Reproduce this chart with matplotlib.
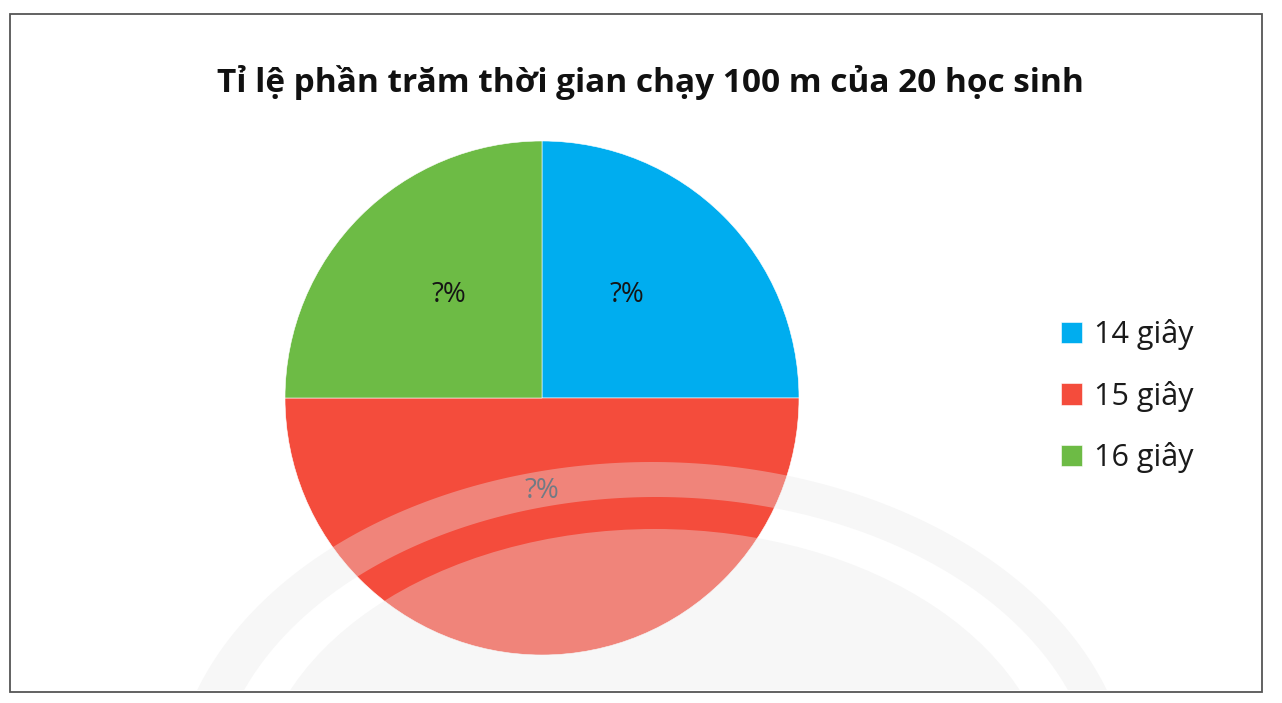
import matplotlib
matplotlib.use("Agg")
import matplotlib.pyplot as plt
from matplotlib.patches import Rectangle, Ellipse, PathPatch
from matplotlib.path import Path
import numpy as np

title = "Tỉ lệ phần trăm thời gian chạy 100 m của 20 học sinh"
categories = ["14 giây", "15 giây", "16 giây"]
values = [25, 50, 25]
labels_pct = ["?%", "?%", "?%"]
colors = ["#00ADEF", "#F44C3C", "#6DBB45"]

plt.rcParams['font.family'] = ['Open Sans', 'DejaVu Sans']

W, H = 1282, 703
fig = plt.figure(figsize=(W / 100, H / 100), dpi=100)
fig.patch.set_facecolor("white")

# pie axes
cx, cy, r = 542, 398, 257
ax = fig.add_axes([(cx - r) / W, (H - cy - r) / H, 2 * r / W, 2 * r / H])
wedges, texts, autotexts = ax.pie(values, colors=colors, startangle=90, counterclock=False,
                                  autopct=lambda p: "?%", pctdistance=0.52,
                                  wedgeprops=dict(edgecolor="white", linewidth=0.4),
                                  textprops=dict(fontsize=20, color="#151515"))
for t, s in zip(autotexts, labels_pct):
    t.set_text(s)
autotexts[0].set_position((0.33, 0.40))
autotexts[2].set_position((-0.36, 0.40))
autotexts[1].set_position((0, -0.36))
autotexts[1].set_color("#2f3d4c")
ax.set_xlim(-1, 1)
ax.set_ylim(-1, 1)
ax.set_aspect("auto")
ax.axis("off")

# overlay axes in pixel coordinates (watermark + border)
ov = fig.add_axes([0, 0, 1, 1], facecolor="none")
ov.set_xlim(0, W)
ov.set_ylim(H, 0)
ov.axis("off")

clip = Rectangle((0, 0), W, 690, transform=ov.transData)
wm_color = "#e9e9e9"
wm_alpha = 0.36

t = np.linspace(0, 2 * np.pi, 400)
def ell(xc, yc, a, b):
    return np.column_stack([xc + a * np.cos(t), yc + b * np.sin(t)])
outer = ell(652, 800, 481, 338)
inner = ell(656, 800, 442, 303)[::-1]
verts = np.vstack([outer, outer[:1], inner, inner[:1]])
codes = ([Path.MOVETO] + [Path.LINETO] * (len(outer) - 1) + [Path.CLOSEPOLY]) * 2
band = PathPatch(Path(verts, codes), facecolor=wm_color, edgecolor="none", alpha=wm_alpha)
ov.add_patch(band)
band.set_clip_path(clip)
dome = Ellipse((655, 800), 2 * 399, 2 * 271, facecolor=wm_color, edgecolor="none", alpha=wm_alpha)
ov.add_patch(dome)
dome.set_clip_path(clip)

# border
ov.add_patch(Rectangle((9.5, 13.5), 1252, 678, fill=False, edgecolor="#555555", linewidth=1.3))

fig.text(650 / W, 1 - 82 / H, title, ha="center", va="center", fontsize=24, fontweight="bold",
         color="#111111")

leg = fig.legend(wedges, categories, loc="center left",
                 bbox_to_anchor=(1033 / W, 1 - 396 / H), frameon=False,
                 fontsize=22, handlelength=0.7, handleheight=0.7, handletextpad=0.4,
                 labelspacing=1.0)
for txt in leg.get_texts():
    txt.set_color("#1a1a1a")

fig.savefig("out.png", dpi=100, facecolor="white")
